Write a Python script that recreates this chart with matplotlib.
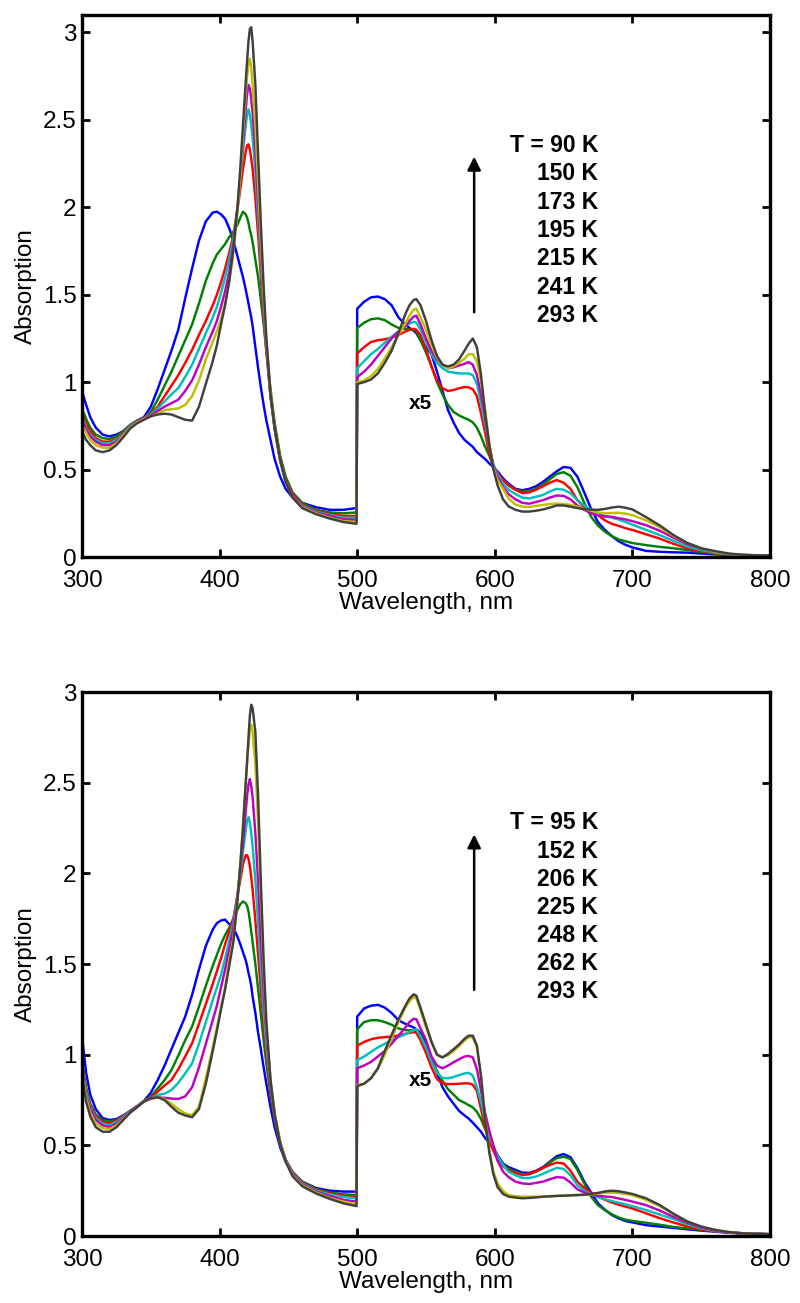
import matplotlib
matplotlib.use('Agg')
import matplotlib.pyplot as plt
from matplotlib.ticker import FormatStrFormatter, MultipleLocator

plt.rcParams['font.family'] = ['Liberation Sans', 'DejaVu Sans']

# ---------------- wavelength grids (nm) ----------------
WL_UV = [300, 303, 306, 310, 315, 320, 325, 330, 335, 340,
         345, 350, 355, 360, 365, 370, 375, 380, 385, 390,
         395, 398, 401, 404, 407, 410, 413, 415, 417, 419,
         420, 421, 422, 423, 424, 426, 428, 430, 432, 434,
         437, 440, 444, 448, 453, 460, 470, 480, 490, 499.5]
WL_VIS = [500, 505, 510, 515, 520, 525, 530, 535, 538, 541,
          543, 546, 550, 554, 558, 562, 566, 570, 574, 578,
          581, 584, 587, 590, 593, 596, 599, 602, 606, 610,
          615, 620, 625, 630, 635, 640, 645, 650, 655, 660,
          665, 670, 675, 680, 685, 690, 695, 700, 710, 720,
          730, 740, 750, 760, 770, 780, 790, 800]

# ---------------- top panel (x5 above 500 nm) ----------------
TOP_TEMPS = ["T = 90 K", "150 K", "173 K", "195 K", "215 K", "241 K", "293 K"]

top_uv_blue = [.95, .87, .80, .74, .70, .69, .70, .72, .755, .78,
               .80, .86, .96, 1.07, 1.18, 1.30, 1.48, 1.65, 1.81, 1.92,
               1.97, 1.975, 1.96, 1.935, 1.88, 1.81, 1.72, 1.66, 1.60, 1.53,
               1.49, 1.45, 1.41, 1.37, 1.32, 1.20, 1.08, .97, .87, .78,
               .67, .56, .46, .39, .34, .31, .285, .27, .27, .28]
top_uv_green = [.85, .79, .74, .70, .68, .675, .69, .72, .755, .78,
                .795, .83, .90, .98, 1.06, 1.15, 1.24, 1.33, 1.45, 1.58,
                1.68, 1.73, 1.76, 1.79, 1.83, 1.86, 1.90, 1.94, 1.975, 1.96,
                1.94, 1.91, 1.87, 1.84, 1.80, 1.70, 1.60, 1.47, 1.33, 1.18,
                .96, .77, .58, .46, .37, .31, .27, .255, .25, .255]
top_uv_red = [.82, .76, .72, .68, .66, .66, .675, .71, .75, .775,
              .795, .82, .86, .92, .98, 1.04, 1.11, 1.185, 1.27, 1.35,
              1.44, 1.50, 1.57, 1.65, 1.74, 1.84, 1.99, 2.10, 2.22, 2.32,
              2.355, 2.36, 2.33, 2.28, 2.22, 2.05, 1.84, 1.60, 1.37, 1.17,
              .92, .74, .56, .44, .36, .30, .265, .245, .235, .235]
top_uv_cyan = [.80, .74, .70, .67, .65, .65, .67, .705, .75, .775,
               .795, .815, .85, .89, .93, .966, 1.03, 1.10, 1.19, 1.28,
               1.37, 1.43, 1.51, 1.60, 1.70, 1.82, 2.00, 2.15, 2.32, 2.47,
               2.53, 2.56, 2.53, 2.47, 2.40, 2.20, 1.94, 1.67, 1.41, 1.19,
               .92, .73, .55, .43, .35, .295, .26, .24, .225, .225]
top_uv_magenta = [.78, .73, .69, .66, .64, .64, .66, .70, .745, .775,
                  .795, .81, .835, .86, .88, .90, .95, 1.01, 1.10, 1.20,
                  1.29, 1.35, 1.43, 1.52, 1.63, 1.78, 1.99, 2.17, 2.37, 2.56,
                  2.65, 2.70, 2.68, 2.62, 2.54, 2.32, 2.03, 1.73, 1.45, 1.21,
                  .93, .73, .55, .43, .35, .29, .255, .235, .215, .213]
top_uv_yellow = [.76, .71, .67, .64, .625, .625, .65, .695, .74, .77,
                 .79, .805, .82, .84, .845, .85, .87, .92, 1.01, 1.13,
                 1.23, 1.29, 1.36, 1.45, 1.57, 1.74, 1.97, 2.17, 2.42, 2.65,
                 2.75, 2.82, 2.85, 2.80, 2.70, 2.46, 2.13, 1.80, 1.50, 1.24,
                 .94, .74, .56, .43, .34, .285, .25, .225, .205, .20]
top_uv_gray = [.72, .67, .64, .61, .60, .61, .64, .685, .735, .765,
               .785, .805, .815, .82, .815, .80, .785, .78, .86, .99,
               1.12, 1.21, 1.33, 1.44, 1.58, 1.76, 2.00, 2.22, 2.47, 2.72,
               2.84, 2.95, 3.02, 3.03, 2.95, 2.70, 2.30, 1.90, 1.55, 1.25,
               .93, .74, .56, .43, .34, .28, .245, .22, .20, .19]

top_vis_blue = [1.42, 1.46, 1.485, 1.49, 1.475, 1.44, 1.37, 1.33, 1.31, 1.295,
                1.28, 1.24, 1.20, 1.16, 1.06, .95, .84, .77, .71, .67,
                .65, .63, .60, .58, .56, .535, .515, .49, .45, .42,
                .39, .382, .39, .405, .43, .46, .49, .515, .51, .46,
                .37, .275, .20, .155, .12, .09, .07, .055, .035, .03,
                .027, .025, .02, .015, .012, .01, .01, .01]
top_vis_green = [1.31, 1.34, 1.36, 1.365, 1.355, 1.33, 1.31, 1.305, 1.30, 1.30,
                 1.29, 1.24, 1.17, 1.09, 1.00, .93, .87, .83, .81, .795,
                 .785, .77, .74, .69, .63, .58, .52, .475, .44, .41,
                 .385, .375, .375, .39, .415, .445, .475, .485, .465, .40,
                 .31, .23, .18, .145, .12, .10, .09, .08, .068, .058,
                 .05, .04, .028, .02, .014, .01, .01, .01]
top_vis_red = [1.165, 1.20, 1.23, 1.24, 1.245, 1.255, 1.27, 1.29, 1.30, 1.305,
               1.30, 1.27, 1.19, 1.09, 1.01, .965, .95, .955, .965, .972,
               .97, .96, .92, .82, .71, .59, .52, .48, .44, .41,
               .385, .365, .37, .385, .405, .425, .44, .425, .39, .325,
               .285, .26, .24, .21, .19, .178, .165, .155, .13, .105,
               .075, .05, .034, .022, .015, .01, .01, .01]
top_vis_cyan = [1.08, 1.12, 1.16, 1.19, 1.225, 1.26, 1.29, 1.32, 1.335, 1.345,
                1.34, 1.30, 1.23, 1.16, 1.11, 1.08, 1.06, 1.055, 1.05, 1.05,
                1.05, 1.04, .99, .88, .76, .63, .53, .475, .42, .385,
                .36, .34, .335, .345, .355, .375, .39, .385, .365, .325,
                .295, .27, .25, .235, .225, .215, .20, .185, .155, .125,
                .092, .06, .04, .025, .016, .01, .01, .01]
top_vis_magenta = [1.03, 1.06, 1.10, 1.15, 1.20, 1.25, 1.29, 1.32, 1.35, 1.375,
                   1.38, 1.33, 1.25, 1.18, 1.13, 1.10, 1.08, 1.085, 1.095, 1.105,
                   1.115, 1.10, 1.04, .93, .80, .64, .52, .46, .40, .36,
                   .33, .31, .305, .315, .325, .34, .352, .35, .33, .295,
                   .27, .25, .238, .232, .23, .222, .215, .205, .182, .15,
                   .11, .073, .048, .03, .018, .012, .01, .01]
top_vis_yellow = [1.00, 1.01, 1.035, 1.075, 1.135, 1.20, 1.27, 1.335, 1.38, 1.415,
                  1.42, 1.37, 1.30, 1.21, 1.14, 1.10, 1.08, 1.09, 1.11, 1.135,
                  1.16, 1.16, 1.12, 1.00, .84, .65, .51, .44, .39, .335,
                  .30, .288, .287, .292, .298, .303, .306, .303, .298, .288,
                  .275, .265, .255, .25, .252, .253, .248, .24, .21, .17,
                  .12, .08, .05, .03, .018, .012, .01, .01]
top_vis_gray = [.99, 1.00, 1.015, 1.05, 1.11, 1.18, 1.28, 1.39, 1.44, 1.47,
                1.475, 1.44, 1.35, 1.24, 1.15, 1.10, 1.09, 1.10, 1.13, 1.18,
                1.22, 1.25, 1.20, 1.04, .82, .64, .50, .41, .33, .29,
                .27, .26, .26, .265, .272, .283, .295, .295, .288, .28,
                .274, .271, .27, .275, .283, .288, .282, .272, .228, .18,
                .125, .08, .05, .034, .02, .013, .01, .01]

# ---------------- bottom panel (x5 above 500 nm) ----------------
BOT_TEMPS = ["T = 95 K", "152 K", "206 K", "225 K", "248 K", "262 K", "293 K"]

bot_uv_blue = [1.10, .90, .78, .70, .65, .64, .645, .665, .69, .715,
               .745, .79, .86, .94, 1.03, 1.12, 1.21, 1.33, 1.47, 1.60,
               1.69, 1.725, 1.74, 1.745, 1.72, 1.70, 1.65, 1.61, 1.565, 1.52,
               1.49, 1.45, 1.42, 1.38, 1.32, 1.23, 1.12, 1.03, .93, .84,
               .71, .60, .49, .41, .35, .30, .265, .25, .245, .245]
bot_uv_green = [.97, .82, .73, .67, .64, .63, .64, .66, .69, .715,
                .742, .768, .814, .86, .915, .995, 1.08, 1.155, 1.265, 1.38,
                1.49, 1.55, 1.61, 1.66, 1.70, 1.75, 1.80, 1.83, 1.845, 1.835,
                1.82, 1.79, 1.74, 1.68, 1.62, 1.50, 1.36, 1.22, 1.08, .95,
                .78, .64, .51, .42, .355, .30, .26, .24, .23, .226]
bot_uv_red = [.95, .80, .72, .66, .63, .62, .635, .66, .69, .715,
              .742, .765, .796, .83, .86, .92, .99, 1.063, 1.17, 1.28,
              1.39, 1.46, 1.53, 1.61, 1.68, 1.75, 1.88, 1.96, 2.05, 2.10,
              2.10, 2.08, 2.04, 1.98, 1.91, 1.74, 1.55, 1.35, 1.17, 1.00,
              .80, .65, .51, .42, .35, .295, .255, .235, .222, .217]
bot_uv_cyan = [.93, .79, .71, .65, .62, .61, .63, .655, .69, .715,
               .742, .76, .778, .785, .805, .845, .897, .952, 1.06, 1.18,
               1.30, 1.37, 1.44, 1.53, 1.63, 1.73, 1.88, 1.99, 2.12, 2.24,
               2.29, 2.31, 2.28, 2.22, 2.15, 1.96, 1.72, 1.47, 1.24, 1.05,
               .83, .66, .51, .42, .35, .29, .25, .23, .215, .208]
bot_uv_magenta = [.91, .77, .70, .64, .61, .60, .62, .65, .685, .715,
                  .742, .757, .765, .762, .758, .756, .77, .82, .93, 1.06,
                  1.19, 1.27, 1.37, 1.47, 1.58, 1.70, 1.88, 2.03, 2.17, 2.34,
                  2.43, 2.49, 2.52, 2.48, 2.42, 2.22, 1.95, 1.63, 1.35, 1.11,
                  .85, .67, .52, .42, .345, .285, .245, .22, .20, .19]
bot_uv_yellow = [.89, .76, .68, .62, .595, .59, .61, .645, .68, .71,
                 .742, .76, .765, .755, .73, .70, .676, .667, .713, .87,
                 1.04, 1.15, 1.26, 1.37, 1.52, 1.64, 1.86, 2.05, 2.27, 2.50,
                 2.61, 2.71, 2.79, 2.82, 2.78, 2.60, 2.27, 1.86, 1.47, 1.16,
                 .86, .68, .52, .415, .335, .28, .24, .21, .19, .175]
bot_uv_gray = [.88, .74, .66, .60, .575, .575, .60, .64, .68, .71,
               .742, .76, .765, .75, .713, .68, .665, .655, .70, .84,
               1.02, 1.13, 1.25, 1.36, 1.49, 1.62, 1.85, 2.04, 2.25, 2.50,
               2.62, 2.75, 2.87, 2.93, 2.91, 2.78, 2.42, 1.95, 1.52, 1.18,
               .86, .67, .51, .41, .33, .275, .235, .205, .18, .165]

bot_vis_blue = [1.21, 1.255, 1.27, 1.275, 1.26, 1.23, 1.19, 1.17, 1.16, 1.15,
                1.14, 1.12, 1.06, .98, .90, .82, .77, .73, .69, .665,
                .648, .625, .60, .575, .54, .515, .49, .445, .40, .38,
                .365, .35, .348, .36, .38, .41, .44, .452, .435, .375,
                .30, .24, .18, .145, .116, .097, .083, .075, .06, .052,
                .045, .037, .03, .024, .018, .014, .012, .01]
bot_vis_green = [1.14, 1.18, 1.19, 1.19, 1.18, 1.165, 1.145, 1.135, 1.135, 1.135,
                 1.13, 1.11, 1.04, .97, .91, .855, .81, .78, .75, .735,
                 .722, .71, .685, .645, .59, .53, .485, .435, .395, .37,
                 .355, .34, .34, .355, .375, .405, .43, .437, .425, .365,
                 .29, .217, .17, .143, .12, .102, .09, .083, .073, .062,
                 .05, .042, .035, .027, .02, .015, .012, .01]
bot_vis_red = [1.05, 1.07, 1.085, 1.093, 1.097, 1.10, 1.105, 1.115, 1.12, 1.125,
               1.12, 1.08, 1.01, .93, .865, .842, .838, .838, .84, .842,
               .842, .835, .80, .70, .60, .52, .47, .42, .385, .363,
               .347, .336, .343, .357, .375, .392, .405, .40, .36, .30,
               .265, .24, .217, .20, .185, .173, .162, .152, .125, .098,
               .074, .053, .035, .026, .02, .015, .012, .01]
bot_vis_cyan = [.97, .99, 1.015, 1.04, 1.06, 1.08, 1.097, 1.112, 1.125, 1.135,
                1.14, 1.10, 1.04, .96, .90, .872, .87, .877, .887, .897,
                .90, .885, .82, .74, .635, .555, .493, .44, .39, .355,
                .335, .32, .32, .328, .343, .36, .376, .37, .335, .28,
                .25, .23, .215, .203, .193, .184, .175, .165, .143, .118,
                .093, .065, .042, .028, .02, .015, .012, .01]
bot_vis_magenta = [.925, .94, .96, .99, 1.02, 1.06, 1.105, 1.15, 1.18, 1.198,
                   1.195, 1.145, 1.08, .99, .94, .925, .94, .958, .975, .99,
                   .993, .985, .92, .80, .68, .58, .50, .415, .355, .325,
                   .30, .29, .287, .293, .30, .313, .325, .322, .295, .258,
                   .24, .227, .222, .218, .215, .207, .199, .19, .17, .14,
                   .105, .073, .047, .03, .02, .014, .012, .01]
bot_vis_yellow = [.833, .84, .87, .92, 1.00, 1.09, 1.18, 1.26, 1.295, 1.318,
                  1.31, 1.245, 1.15, 1.065, 1.00, .985, .998, 1.02, 1.047, 1.078,
                  1.097, 1.095, 1.04, .88, .65, .475, .355, .29, .248, .226,
                  .22, .217, .217, .217, .217, .219, .222, .224, .225, .226,
                  .227, .23, .234, .238, .239, .237, .232, .225, .20, .165,
                  .12, .08, .052, .034, .022, .015, .012, .01]
bot_vis_gray = [.827, .84, .87, .925, 1.02, 1.11, 1.195, 1.27, 1.31, 1.333,
                1.325, 1.26, 1.165, 1.072, 1.00, .985, 1.005, 1.03, 1.056, 1.088,
                1.105, 1.105, 1.05, .88, .64, .46, .34, .27, .232, .217,
                .212, .208, .21, .213, .217, .219, .221, .222, .224, .226,
                .228, .232, .238, .246, .25, .247, .24, .232, .208, .17,
                .122, .08, .052, .034, .022, .015, .012, .01]

COLORS = ['#0000ff', '#008000', '#ff0000', '#00bfbf', '#bf00bf', '#bfbf00', '#404040']

TOP_UV = [top_uv_blue, top_uv_green, top_uv_red, top_uv_cyan,
          top_uv_magenta, top_uv_yellow, top_uv_gray]
TOP_VIS = [top_vis_blue, top_vis_green, top_vis_red, top_vis_cyan,
           top_vis_magenta, top_vis_yellow, top_vis_gray]
BOT_UV = [bot_uv_blue, bot_uv_green, bot_uv_red, bot_uv_cyan,
          bot_uv_magenta, bot_uv_yellow, bot_uv_gray]
BOT_VIS = [bot_vis_blue, bot_vis_green, bot_vis_red, bot_vis_cyan,
           bot_vis_magenta, bot_vis_yellow, bot_vis_gray]

FS = 17.5

fig = plt.figure(figsize=(8.0, 13.03), dpi=100)
ax_top = fig.add_axes([0.1025, 0.5725, 0.86, 0.416])
ax_bot = fig.add_axes([0.1025, 0.0514, 0.86, 0.4175])


def draw(ax, uvs, viss, ymax, temps, t_y0, t_dy, arrow_y0, arrow_y1, x5_y):
    wl = WL_UV + WL_VIS
    for col, uv, vis in zip(COLORS, uvs, viss):
        ax.plot(wl, uv + vis, color=col, lw=1.75, solid_joinstyle='round')
    ax.set_xlim(300, 800)
    ax.set_ylim(0, ymax)
    ax.xaxis.set_major_locator(MultipleLocator(100))
    ax.yaxis.set_major_locator(MultipleLocator(0.5))
    ax.yaxis.set_major_formatter(FormatStrFormatter('%g'))
    ax.tick_params(direction='in', length=6, width=2.0, top=True, right=True,
                   labelsize=FS, pad=4)
    ax.tick_params(axis='x', pad=9)
    for sp in ax.spines.values():
        sp.set_linewidth(2.4)
    ax.set_xlabel('Wavelength, nm', fontsize=FS, labelpad=0)
    ax.set_ylabel('Absorption', fontsize=FS, labelpad=4)
    for i, t in enumerate(temps):
        ax.text(675, t_y0 - i * t_dy, t, ha='right', va='center',
                fontsize=16.5, fontweight='bold')
    ax.annotate('', xy=(585, arrow_y1), xytext=(585, arrow_y0),
                arrowprops=dict(arrowstyle='-|>', color='k', lw=1.8,
                                mutation_scale=20, shrinkA=0, shrinkB=0))
    ax.text(546, x5_y, 'x5', ha='center', va='center', fontsize=15,
            fontweight='bold')


draw(ax_top, TOP_UV, TOP_VIS, 3.1, TOP_TEMPS, 2.354, 0.162, 1.40, 2.29, 0.88)
draw(ax_bot, BOT_UV, BOT_VIS, 3.0, BOT_TEMPS, 2.278, 0.155, 1.357, 2.215, 0.857)

fig.savefig('out.png', dpi=100)
